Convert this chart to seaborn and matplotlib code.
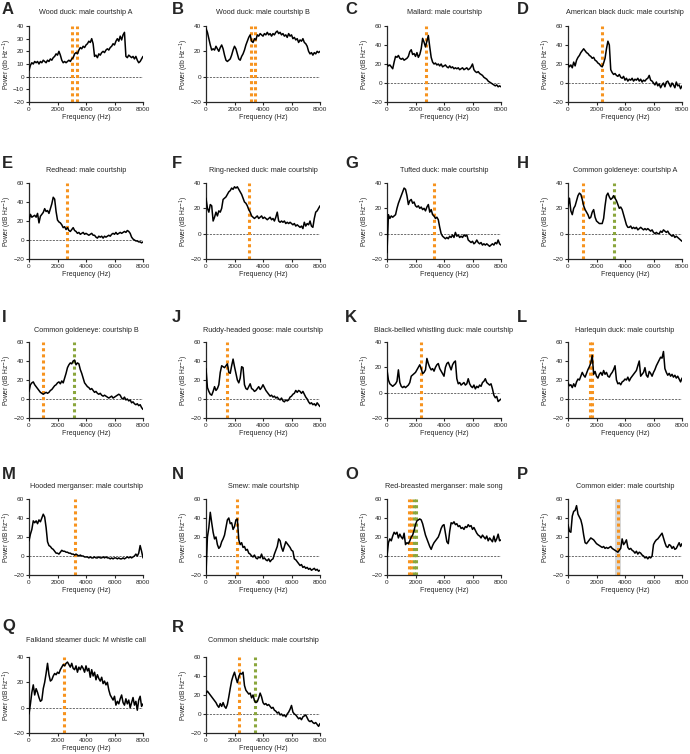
import numpy as np
import pandas as pd
import seaborn as sns
import matplotlib.pyplot as plt

# Power spectra of duck courtship sounds, 18 panels (A-R)

freq = list(range(0, 8001, 100))

wood_duck_a = [5, 9, 11, 10, 12, 11, 12, 10, 12, 11, 13, 12, 11, 13, 12, 14, 13, 15, 16, 18,
               17, 20, 17, 13, 11, 12, 11, 12, 13, 12, 14, 15, 18, 19, 18, 21, 23, 22, 24, 23,
               25, 26, 28, 27, 30, 26, 16, 17, 15, 18, 17, 19, 20, 19, 21, 22, 21, 23, 24, 26,
               25, 28, 30, 28, 32, 29, 33, 35, 16, 15, 17, 16, 15, 16, 14, 16, 13, 11, 12, 14, 16]
wood_duck_b = [38, 35, 30, 25, 21, 22, 21, 24, 22, 20, 23, 25, 22, 17, 13, 12, 13, 14, 17, 21,
               24, 22, 18, 14, 13, 16, 18, 21, 25, 28, 31, 33, 28, 27, 30, 29, 33, 32, 34, 33,
               32, 34, 33, 35, 33, 34, 32, 34, 33, 35, 36, 34, 35, 33, 34, 32, 33, 31, 34, 32,
               33, 30, 31, 29, 30, 27, 29, 28, 30, 27, 26, 24, 20, 18, 19, 17, 19, 18, 20, 19, 20]
mallard = [20, 18, 19, 17, 15, 22, 28, 27, 29, 26, 25, 26, 24, 25, 26, 28, 33, 35, 30, 31,
           28, 32, 27, 30, 36, 47, 43, 38, 44, 50, 38, 27, 22, 20, 21, 19, 20, 18, 20, 17,
           18, 19, 17, 16, 18, 16, 17, 15, 16, 15, 16, 14, 15, 16, 14, 15, 16, 14, 15, 17,
           20, 14, 12, 11, 12, 10, 9, 8, 6, 5, 4, 2, 1, 0, -1, -2, -3, -2, -4, -3, -4]
black_duck = [20, 17, 19, 16, 22, 18, 24, 27, 29, 32, 34, 36, 34, 32, 31, 29, 28, 26, 27, 24,
              23, 21, 20, 18, 17, 21, 26, 36, 44, 40, 14, 11, 9, 10, 8, 7, 9, 6, 5, 7,
              3, 5, 2, 4, 3, 5, 2, 4, 3, 5, 2, 4, 1, 3, 2, 4, 5, 8, 3, 2,
              0, -2, 1, -3, -1, -5, -2, 0, -4, 1, 2, -1, -4, 0, -2, -5, 1, -3, -2, -6, -3]
redhead = [20, 27, 24, 25, 26, 24, 28, 18, 25, 27, 29, 33, 30, 31, 28, 33, 38, 45, 43, 30,
           21, 19, 18, 16, 13, 14, 11, 13, 10, 9, 11, 13, 10, 9, 7, 8, 6, 7, 8, 6,
           7, 6, 5, 6, 7, 5, 5, 3, 2, 4, 3, 4, 2, 4, 3, 4, 5, 4, 6, 7,
           6, 8, 6, 7, 8, 7, 8, 9, 8, 10, 9, 7, 3, 1, 0, -1, -1, -2, -2, -3, -2]
ring_necked = [28, 20, 17, 23, 22, 10, 13, 17, 14, 18, 17, 20, 27, 28, 29, 31, 33, 34, 36, 35,
               37, 36, 37, 35, 33, 31, 28, 25, 24, 22, 19, 17, 14, 13, 12, 13, 14, 12, 13, 14,
               12, 13, 12, 11, 12, 13, 11, 12, 10, 13, 17, 10, 9, 10, 9, 10, 8, 9, 8, 9,
               8, 7, 8, 6, 7, 6, 5, 6, 4, 9, 6, 8, 7, 10, 6, 5, 12, 17, 18, 20, 22]
tufted = [-15, 15, 12, 14, 13, 14, 15, 20, 24, 27, 30, 33, 36, 35, 30, 23, 26, 27, 24, 25,
          22, 21, 22, 20, 21, 19, 20, 18, 21, 23, 17, 19, 15, 14, 12, 13, 11, 5, 0, -2,
          -3, -4, -3, -4, -2, -3, -1, -3, 1, -2, -1, -3, -2, -3, -1, -2, -1, -5, -6, -7,
          -6, -8, -7, -5, -7, -8, -7, -9, -8, -9, -8, -9, -10, -9, -8, -9, -7, -8, -5, -8, -9]
goldeneye_a = [22, 28, 18, 15, 20, 22, 26, 30, 32, 31, 27, 22, 19, 17, 15, 12, 13, 17, 19, 13,
               10, 9, 8, 8, 8, 12, 22, 30, 32, 29, 27, 28, 30, 28, 26, 23, 20, 21, 19, 15,
               11, 7, 5, 5, 6, 4, 5, 4, 5, 3, 4, 5, 4, 3, 4, 3, 4, 3, 2, 3,
               1, 0, 1, 0, 0, 2, 1, 3, 2, 1, 2, 0, -1, -2, -1, -3, -2, -3, -4, -5, -6]
goldeneye_b = [8, 15, 17, 18, 15, 13, 11, 9, 7, 6, 5, 6, 7, 6, 7, 9, 10, 12, 14, 15,
               17, 18, 16, 19, 17, 22, 27, 33, 36, 38, 37, 40, 41, 36, 38, 37, 31, 27, 22, 17,
               15, 13, 12, 10, 11, 9, 7, 8, 6, 5, 6, 4, 3, 4, 3, 2, 1, 2, 3, 1,
               2, 3, 4, 5, 4, 1, 0, 2, -1, 0, -2, -1, -4, -3, -5, -6, -5, -7, -6, -9, -11]
ruddy_goose = [32, 12, 8, 5, 4, 8, 13, 9, 11, 15, 28, 35, 34, 33, 35, 37, 28, 27, 35, 42,
               34, 27, 20, 17, 22, 34, 33, 15, 11, 10, 13, 16, 11, 10, 8, 9, 11, 13, 10, 12,
               15, 12, 9, 7, 5, 3, 4, 2, 3, 1, 2, 0, -1, 1, -2, -3, -1, -2, -1, 2,
               3, 5, 6, 9, 7, 9, 8, 6, 8, 5, 2, 0, -3, -5, -4, -6, -5, -7, -4, -6, -8]
whistling = [18, 10, 7, 6, 5, 6, 7, 9, 18, 8, 5, 4, 5, 4, 5, 6, 8, 13, 14, 15,
             16, 18, 20, 22, 19, 15, 16, 18, 27, 23, 20, 18, 19, 17, 20, 22, 23, 19, 17, 15,
             13, 20, 23, 24, 21, 18, 22, 24, 25, 11, 7, 8, 6, 7, 8, 6, 7, 11, 7, 5,
             4, 6, 3, 5, 4, 6, 5, 8, 9, 11, 8, 7, 6, 7, 3, -2, -4, -3, -7, -6, -5]
harlequin = [17, 14, 15, 12, 16, 13, 18, 21, 20, 24, 28, 25, 23, 27, 31, 34, 38, 46, 26, 29,
             24, 22, 26, 28, 25, 30, 26, 28, 24, 23, 26, 28, 31, 35, 20, 16, 17, 15, 18, 19,
             21, 20, 23, 19, 22, 24, 26, 28, 30, 35, 40, 24, 26, 28, 33, 25, 23, 29, 27, 24,
             28, 31, 35, 38, 41, 44, 43, 50, 32, 28, 25, 27, 24, 26, 23, 25, 22, 24, 21, 18, 22]
hooded = [16, 23, 28, 37, 35, 37, 34, 38, 36, 40, 44, 41, 30, 15, 11, 10, 8, 7, 5, 3,
          3, 2, 4, 6, 5, 5, 4, 4, 3, 3, 2, 2, 1, 2, 1, 0, 1, 0, 0, -1,
          -1, -1, -2, -1, -2, -2, -1, -2, -2, -1, -2, -2, -1, -2, -1, -2, -2, -3, -2, -3,
          -2, -2, -3, -2, -3, -3, -2, -3, -2, -1, -2, -1, -2, -1, 0, 2, 0, 3, 11, 5, -2]
smew = [-18, 20, 30, 46, 35, 25, 18, 20, 12, 8, 10, 15, 18, 22, 30, 38, 40, 34, 35, 28,
        31, 38, 39, 17, 12, 14, 9, 10, 6, 7, 3, 2, 0, -1, 1, -2, -3, -1, -2, 2,
        -3, -2, -4, -5, -3, -6, -4, -3, 2, 6, 10, 18, 16, 9, 5, 10, 15, 13, 11, 9,
        6, 5, -3, -4, -6, -8, -10, -9, -12, -11, -13, -12, -14, -13, -15, -14, -13, -15, -14, -16, -15]
merganser = [0, 14, 18, 16, 21, 25, 23, 25, 19, 23, 20, 18, 24, 12, 14, 13, 16, 20, 22, 27,
             33, 37, 38, 39, 38, 34, 28, 22, 18, 14, 10, 7, 11, 14, 16, 18, 20, 24, 29, 32,
             33, 24, 15, 13, 26, 35, 34, 36, 33, 34, 31, 32, 29, 30, 28, 31, 30, 33, 31, 32,
             28, 30, 27, 24, 22, 21, 19, 22, 20, 18, 21, 16, 19, 17, 15, 21, 15, 18, 23, 16, 17]
eider = [33, 26, 25, 42, 47, 48, 53, 44, 41, 38, 32, 22, 14, 13, 15, 17, 19, 18, 17, 15,
         13, 12, 11, 10, 9, 10, 8, 9, 8, 9, 10, 8, 7, 6, 5, 4, 6, 8, 18, 12,
         14, 17, 9, 7, 8, 6, 5, 3, 5, 2, 4, 3, 1, 0, -2, -1, -3, -1, -2, 0,
         12, 15, 17, 18, 20, 22, 24, 19, 14, 10, 9, 12, 11, 8, 10, 7, 8, 11, 14, 10, 13]
steamer = [-5, 3, 12, 18, 10, 15, 12, 8, 5, 6, 15, 20, 27, 35, 26, 21, 22, 25, 27, 26,
           28, 27, 30, 32, 34, 33, 35, 36, 34, 32, 35, 31, 30, 33, 28, 32, 30, 33, 31, 28,
           33, 29, 31, 24, 30, 25, 28, 22, 26, 23, 21, 24, 19, 21, 18, 20, 14, 10, 8, 6,
           9, 2, 5, 3, 7, 10, 4, 2, 7, 3, 6, 0, 4, 8, 2, 5, -2, 6, 9, 1, 3]
shelduck = [22, 24, 22, 20, 18, 16, 14, 12, 9, 7, 11, 8, 12, 8, 6, 10, 18, 27, 35, 40,
            44, 38, 33, 39, 43, 42, 44, 30, 25, 23, 21, 22, 17, 20, 14, 12, 13, 17, 22, 18,
            12, 10, 11, 9, 10, 8, 6, 7, 4, 3, 1, 2, -1, 0, -2, -1, -3, 0, 2, 5,
            9, 2, 0, -1, -3, -5, -4, -6, -3, -2, -1, -4, -7, -8, -7, -9, -10, -9, -11, -13, -10]

titles = ["Wood duck: male courtship A", "Wood duck: male courtship B", "Mallard: male courtship",
          "American black duck: male courtship", "Redhead: male courtship",
          "Ring-necked duck: male courtship", "Tufted duck: male courtship",
          "Common goldeneye: courtship A", "Common goldeneye: courtship B",
          "Ruddy-headed goose: male courtship", "Black-bellied whistling duck: male courtship",
          "Harlequin duck: male courtship", "Hooded merganser: male courtship",
          "Smew: male courtship", "Red-breasted merganser: male song",
          "Common eider: male courtship", "Falkland steamer duck: M whistle call",
          "Common shelduck: male courtship"]
letters = list("ABCDEFGHIJKLMNOPQR")
spectra = [wood_duck_a, wood_duck_b, mallard, black_duck, redhead, ring_necked, tufted,
           goldeneye_a, goldeneye_b, ruddy_goose, whistling, harlequin, hooded, smew,
           merganser, eider, steamer, shelduck]
y_max = [40, 40, 60, 60, 60, 40, 40, 40, 60, 60, 40, 60, 60, 60, 60, 60, 40, 60]
orange_marks = [[3050, 3400], [3150, 3450], [2750], [2400], [2650], [3050], [3300], [1050],
                [1000], [1500], [2400], [1550, 1700], [3200], [2200], [1550, 1700], [3500],
                [2450], [2350]]
green_marks = [[], [], [], [], [], [], [], [3200], [3150], [], [], [], [], [], [1900, 2050],
               [], [], [3450]]
db_lower = ["A", "B", "D"]

ORANGE = "#F7931E"
GREEN = "#8AA63C"

sns.set_style("ticks")
plt.rcParams["font.family"] = ["Liberation Sans", "DejaVu Sans"]

W, H = 690, 754
fig = plt.figure(figsize=(W / 100, H / 100), dpi=100)

col_left = [29, 206, 387, 568]
letter_x = [2, 172, 345, 517]
row_top = [26, 183, 342, 499, 657]
letter_off = [16, 20, 24, 25, 30]
title_off = [13, 12, 12, 12, 16]
ax_w, ax_h = 114, 76

for i, (letter, title, vals) in enumerate(zip(letters, titles, spectra)):
    r, c = divmod(i, 4)
    left, top = col_left[c], row_top[r]
    ax = fig.add_axes([left / W, 1 - (top + ax_h) / H, ax_w / W, ax_h / H])
    df = pd.DataFrame({"freq": freq, "power": vals})

    if letter == "P":
        ax.axvspan(3300, 3700, color="#d9d9d9", lw=0, zorder=0)
    ax.axhline(0, color="#555555", lw=0.6, ls=(0, (2.5, 1.5)), zorder=1)
    for x in orange_marks[i]:
        ax.axvline(x, color=ORANGE, lw=2.2, ls=(0, (1, 1)), zorder=2)
    for x in green_marks[i]:
        ax.axvline(x, color=GREEN, lw=2.2, ls=(0, (1, 1)), zorder=2)
    sns.lineplot(data=df, x="freq", y="power", ax=ax, color="black", lw=1.1, zorder=3)

    ax.set_xlim(0, 8000)
    ax.set_ylim(-20, y_max[i])
    ax.set_xticks([0, 2000, 4000, 6000, 8000])
    ax.set_yticks(np.arange(-20, y_max[i] + 1, 10 if letter == "A" else 20))
    ax.set_xlabel("Frequency (Hz)", fontsize=5, labelpad=1.5)
    db = "db" if letter in db_lower else "dB"
    ax.set_ylabel(f"Power ({db} Hz$^{{-1}}$)", fontsize=4.8)
    ax.yaxis.set_label_coords(-15 / ax_w, 0.5)
    ax.tick_params(labelsize=4.6, length=2.5, width=0.8, pad=1.0)
    for s in ["left", "bottom"]:
        ax.spines[s].set_linewidth(0.9)
    sns.despine(ax=ax)

    fig.text((left + ax_w / 2) / W, 1 - (top - title_off[r]) / H, title,
             fontsize=5.2, ha="center", va="center")
    fig.text(letter_x[c] / W, 1 - (top - letter_off[r]) / H, letter,
             fontsize=12, fontweight="bold", ha="left", va="center")

fig.savefig("out.png", dpi=100)
